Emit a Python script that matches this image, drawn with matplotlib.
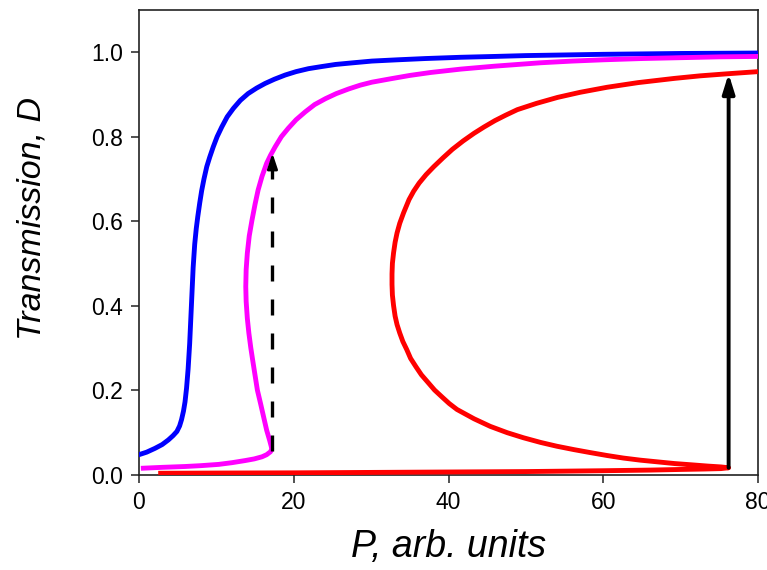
import matplotlib
matplotlib.use("Agg")
import matplotlib.pyplot as plt

# curves: pump P (arb. units) and transmission D
blue_P = [0, 1.0, 2.07, 3.0, 3.8, 4.4, 4.9, 5.25, 5.5, 5.75, 5.95, 6.15, 6.35, 6.55, 6.7,
          6.85, 7.0, 7.2, 7.4, 7.6, 7.85, 8.1, 8.4, 8.76, 9.15, 9.6, 10.1, 10.7, 11.4, 12.2,
          13.1, 14.1, 15.2, 16.3, 17.5, 18.9, 20.3, 21.9, 23.6, 25.4, 27.7, 30.1, 33.4, 37,
          41.6, 46, 50, 60, 70, 80]
blue_D = [0.047, 0.053, 0.062, 0.071, 0.082, 0.092, 0.102, 0.115, 0.13, 0.15, 0.172, 0.205,
          0.25, 0.31, 0.37, 0.43, 0.49, 0.545, 0.582, 0.611, 0.643, 0.672, 0.70, 0.729, 0.752,
          0.776, 0.80, 0.823, 0.847, 0.867, 0.886, 0.902, 0.915, 0.926, 0.936, 0.946, 0.954,
          0.961, 0.966, 0.971, 0.975, 0.979, 0.982, 0.985, 0.988, 0.99, 0.992, 0.995, 0.997,
          0.998]

mag_P = [0.56, 3, 5.95, 8, 10.3, 12, 13.7, 14.9, 15.9, 16.5, 17.0, 17.15, 17.1, 16.9, 16.5,
         16.1, 15.7, 15.3, 15.0, 14.7, 14.45, 14.2, 14.0, 13.85, 13.8, 13.85, 14.0, 14.25,
         14.6, 15.0, 15.4, 15.9, 16.5, 17.0, 17.6, 18.4, 19.3, 20.3, 21.5, 22.7, 24.1, 25.5,
         27.1, 28.6, 30.1, 32.5, 35, 37.7, 41.6, 46, 51.9, 56, 60, 65, 70, 75, 80]
mag_D = [0.015, 0.017, 0.019, 0.021, 0.024, 0.028, 0.033, 0.037, 0.042, 0.047, 0.054, 0.06,
         0.066, 0.08, 0.105, 0.137, 0.169, 0.20, 0.235, 0.27, 0.30, 0.335, 0.37, 0.41, 0.445,
         0.485, 0.524, 0.565, 0.602, 0.64, 0.674, 0.706, 0.737, 0.756, 0.776, 0.80, 0.82,
         0.84, 0.859, 0.876, 0.89, 0.902, 0.913, 0.922, 0.929, 0.937, 0.945, 0.952, 0.96,
         0.967, 0.975, 0.979, 0.982, 0.985, 0.987, 0.989, 0.99]

red_P = [2.8, 10, 20, 30, 40, 50, 60, 66, 70, 73, 75.2, 76.2, 75.2, 73.5, 71.4, 69.2, 67,
         64.8, 62.6, 60.5, 58.3, 56.2, 54, 51.9, 49.7, 47.6, 45.4, 43.3, 41.1, 40.1, 39.2,
         38.2, 37.4, 36.5, 35.8, 35.1, 34.6, 34.1, 33.7, 33.35, 33.1, 32.9, 32.75, 32.7, 32.7,
         32.75, 32.9, 33.1, 33.35, 33.7, 34.2, 34.9, 35.5, 36.2, 37.1, 38.1, 39.3, 40.5,
         41.9, 43.3, 44.6, 46, 47.4, 48.9, 51.4, 54.1, 57, 60.5, 64.5, 69.2, 72.5, 76.1, 80]
red_D = [0.003, 0.0035, 0.004, 0.005, 0.006, 0.007, 0.009, 0.0105, 0.012, 0.013, 0.014,
         0.016, 0.018, 0.020, 0.023, 0.026, 0.030, 0.034, 0.039, 0.045, 0.052, 0.059, 0.067,
         0.076, 0.087, 0.099, 0.114, 0.132, 0.154, 0.168, 0.183, 0.20, 0.217, 0.236, 0.255,
         0.275, 0.296, 0.315, 0.335, 0.355, 0.375, 0.40, 0.425, 0.45, 0.475, 0.50, 0.525,
         0.55, 0.572, 0.595, 0.62, 0.651, 0.671, 0.69, 0.71, 0.729, 0.75, 0.77, 0.79, 0.808,
         0.823, 0.838, 0.851, 0.864, 0.879, 0.893, 0.905, 0.917, 0.928, 0.938, 0.944, 0.949,
         0.954]

# the two jumps
jump_up_P = 17.25
jump_up_D = [0.055, 0.761]
jump_red_P = 76.2
jump_red_D = [0.016, 0.949]

plt.rcParams['font.family'] = ['Liberation Sans', 'DejaVu Sans']

fig = plt.figure(figsize=(7.67, 5.70), dpi=100)
ax = fig.add_axes([0.1812, 0.1675, 0.8071, 0.815])

lw = 3.5
ax.plot(blue_P, blue_D, color='#0000ff', lw=lw, solid_joinstyle='round', zorder=3)
ax.plot(mag_P, mag_D, color='#ff00ff', lw=lw, solid_joinstyle='round', zorder=3)
ax.plot(red_P, red_D, color='#ff0000', lw=lw, solid_joinstyle='round', zorder=3)

# dashed jump on the magenta curve
ax.plot([jump_up_P, jump_up_P], [jump_up_D[0], jump_up_D[1] - 0.02], color='k', lw=2.4,
        dashes=(4.8, 5.4), zorder=4)
ax.annotate('', xy=(jump_up_P, jump_up_D[1]), xytext=(jump_up_P, jump_up_D[1] - 0.03),
            arrowprops=dict(arrowstyle='-|>,head_length=0.9,head_width=0.3', color='k',
                            lw=2.0, shrinkA=0, shrinkB=0), zorder=5)

# solid jump on the red curve
ax.annotate('', xy=(jump_red_P, jump_red_D[1]), xytext=(jump_red_P, jump_red_D[0]),
            arrowprops=dict(arrowstyle='-|>,head_length=1.15,head_width=0.36', color='k',
                            lw=2.8, shrinkA=0, shrinkB=0), zorder=5)

ax.set_xlim(0, 80)
ax.set_ylim(0, 1.1)
ax.set_xticks([0, 20, 40, 60, 80])
ax.set_yticks([0.0, 0.2, 0.4, 0.6, 0.8, 1.0])
ax.set_yticklabels(['0.0', '0.2', '0.4', '0.6', '0.8', '1.0'])
ax.tick_params(direction='out', length=6, width=1.1, labelsize=16.5, colors='#222222',
               labelcolor='black')
ax.tick_params(axis='x', pad=6)
ax.tick_params(axis='y', pad=5.5)
for s in ax.spines.values():
    s.set_linewidth(1.2)
    s.set_color('#222222')

ax.set_xlabel('P, arb. units', fontsize=27, style='italic')
ax.set_ylabel('Transmission, D', fontsize=24.5, style='italic')
ax.xaxis.set_label_coords(0.5, -0.118)
ax.yaxis.set_label_coords(-0.148, 0.552)

fig.savefig('out.png', dpi=100)
